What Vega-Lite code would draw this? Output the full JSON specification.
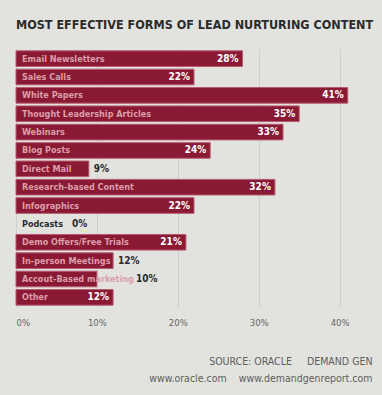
{
  "$schema": "https://vega.github.io/schema/vega-lite/v6.json",
  "autosize": {"type": "none"},
  "width": 356,
  "height": 258,
  "padding": {"left": 16, "top": 49, "right": 10, "bottom": 88},
  "background": "#e2e3df",
  "config": {"view": {"stroke": null}, "font": "DejaVu Sans Condensed, DejaVu Sans, sans-serif"},
  "title": {
    "text": "MOST EFFECTIVE FORMS OF LEAD NURTURING CONTENT",
    "anchor": "start",
    "frame": "group",
    "font": "DejaVu Sans Condensed, DejaVu Sans, sans-serif",
    "fontSize": 12.5,
    "fontWeight": "bold",
    "color": "#2b2b2b",
    "offset": 18
  },
  "data": {
    "values": [
      {"category": "Email Newsletters", "value": 28},
      {"category": "Sales Calls", "value": 22},
      {"category": "White Papers", "value": 41},
      {"category": "Thought Leadership Articles", "value": 35},
      {"category": "Webinars", "value": 33},
      {"category": "Blog Posts", "value": 24},
      {"category": "Direct Mail", "value": 9},
      {"category": "Research-based Content", "value": 32},
      {"category": "Infographics", "value": 22},
      {"category": "Podcasts", "value": 0},
      {"category": "Demo Offers/Free Trials", "value": 21},
      {"category": "In-person Meetings", "value": 12},
      {"category": "Accout-Based marketing", "value": 10},
      {"category": "Other", "value": 12}
    ]
  },
  "transform": [{"calculate": "datum.value + '%'", "as": "label"}],
  "encoding": {
    "y": {
      "field": "category",
      "type": "nominal",
      "sort": null,
      "scale": {"paddingInner": 0.15, "paddingOuter": 0.1},
      "axis": null
    }
  },
  "layer": [
    {
      "mark": {"type": "bar", "color": "#8a1a33", "stroke": "#b65a70", "strokeWidth": 1},
      "encoding": {
        "x": {
          "field": "value",
          "type": "quantitative",
          "scale": {"domain": [0, 44], "nice": false},
          "axis": {
            "values": [0, 10, 20, 30, 40],
            "labelExpr": "datum.value + '%'",
            "domain": false,
            "ticks": false,
            "grid": true,
            "gridColor": "#cdcfca",
            "gridWidth": 1,
            "labelColor": "#666666",
            "labelFontSize": 9.5,
            "labelPadding": 10,
            "title": ["SOURCE: ORACLE\u00a0\u00a0\u00a0\u00a0\u00a0DEMAND GEN\u00a0\u00a0", "www.oracle.com\u00a0\u00a0\u00a0\u00a0www.demandgenreport.com"],
            "titleAnchor": "end",
            "titleAlign": "right",
            "titleColor": "#5e5e5e",
            "titleFontSize": 10.5,
            "titleFontWeight": "normal",
            "titlePadding": 30,
            "titleLineHeight": 17
          }
        },
        "strokeOpacity": {
          "condition": {"test": "datum.value == 0", "value": 0},
          "value": 1
        }
      }
    },
    {
      "mark": {"type": "text", "align": "left", "dx": 6, "fontWeight": "bold", "fontSize": 9},
      "encoding": {
        "x": {"datum": 0, "type": "quantitative"},
        "text": {"field": "category"},
        "color": {
          "condition": {"test": "datum.value == 0", "value": "#2b2b2b"},
          "value": "#dc9eac"
        }
      }
    },
    {
      "transform": [{"filter": "datum.value == 0"}],
      "mark": {"type": "text", "align": "left", "dx": 56, "fontWeight": "bold", "fontSize": 10, "color": "#2b2b2b"},
      "encoding": {
        "x": {"datum": 0, "type": "quantitative"},
        "text": {"field": "label"}
      }
    },
    {
      "transform": [{"filter": "datum.value >= 20 || datum.category == 'Other'"}],
      "mark": {"type": "text", "align": "right", "dx": -4, "fontWeight": "bold", "fontSize": 10, "color": "#ffffff"},
      "encoding": {
        "x": {"field": "value", "type": "quantitative"},
        "text": {"field": "label"}
      }
    },
    {
      "transform": [{"filter": "datum.category == 'Direct Mail' || datum.category == 'In-person Meetings'"}],
      "mark": {"type": "text", "align": "left", "dx": 5, "fontWeight": "bold", "fontSize": 10, "color": "#2b2b2b"},
      "encoding": {
        "x": {"field": "value", "type": "quantitative"},
        "text": {"field": "label"}
      }
    },
    {
      "transform": [{"filter": "datum.category == 'Accout-Based marketing'"}],
      "mark": {"type": "text", "align": "left", "dx": 39, "fontWeight": "bold", "fontSize": 10, "color": "#2b2b2b"},
      "encoding": {
        "x": {"field": "value", "type": "quantitative"},
        "text": {"field": "label"}
      }
    }
  ]
}
